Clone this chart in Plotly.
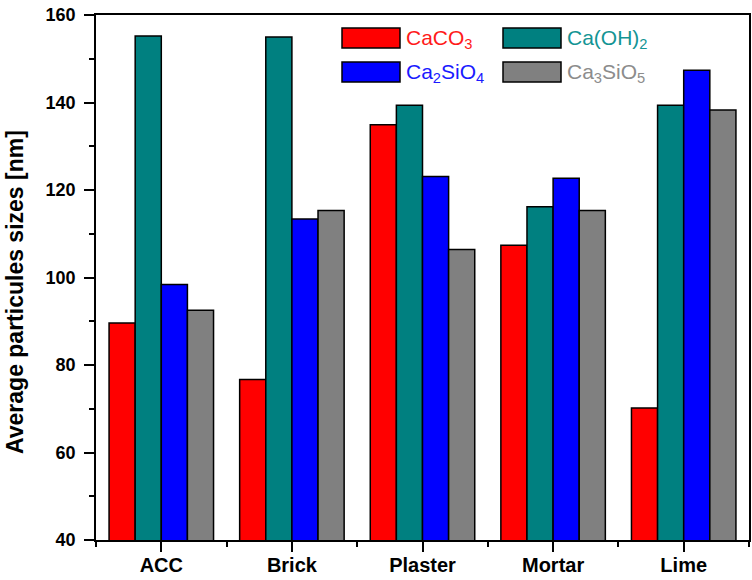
import plotly.graph_objects as go

# datos
categorias = ["ACC", "Brick", "Plaster", "Mortar", "Lime"]
caco3 = [89.6, 76.7, 134.9, 107.4, 70.2]
caoh2 = [155.2, 155.0, 139.4, 116.2, 139.4]
ca2sio4 = [98.4, 113.4, 123.1, 122.7, 147.4]
ca3sio5 = [92.5, 115.3, 106.4, 115.3, 138.3]

series = [
    ("CaCO<sub>3</sub>", caco3, "#ff0000", "#ff1a1a"),
    ("Ca(OH)<sub>2</sub>", caoh2, "#008080", "#139494"),
    ("Ca<sub>2</sub>SiO<sub>4</sub>", ca2sio4, "#0000ff", "#1a1aff"),
    ("Ca<sub>3</sub>SiO<sub>5</sub>", ca3sio5, "#808080", "#8c8c8c"),
]

FONT = "Liberation Sans, Arial, sans-serif"
x = list(range(len(categorias)))

fig = go.Figure()
for nombre, vals, color, _ in series:
    fig.add_trace(go.Bar(
        x=x, y=vals, name=nombre,
        marker=dict(color=color, line=dict(color="black", width=1.5)),
        showlegend=False,
    ))

# area de trazado: x 96..749, y 15..540
W, H = 653, 525
def px_x(p):
    return (p - 96) / W
def px_y(p):
    return (540 - p) / H

# leyenda manual (2 columnas, dentro del grafico)
pos = [(342, 28), (503, 28), (342, 62), (503, 62)]
for (nombre, _, color, tcolor), (sx, sy) in zip(series, pos):
    fig.add_shape(type="rect", xref="paper", yref="paper",
                  x0=px_x(sx), x1=px_x(sx + 58), y0=px_y(sy), y1=px_y(sy + 20),
                  fillcolor=color, line=dict(color="black", width=1.5))
    fig.add_annotation(xref="paper", yref="paper", x=px_x(sx + 62), y=px_y(sy + 11),
                       text=nombre, showarrow=False, xanchor="left", yanchor="middle",
                       font=dict(family=FONT, size=21, color=tcolor))

# titulo del eje y
fig.add_annotation(xref="paper", yref="paper", x=px_x(15), y=px_y(292),
                   text="<b>Average particules sizes [nm]</b>", textangle=-90,
                   showarrow=False, xanchor="center", yanchor="middle",
                   font=dict(family=FONT, size=23, color="black"))

fig.update_layout(
    width=752, height=580,
    margin=dict(l=96, r=3, t=15, b=40),
    plot_bgcolor="white", paper_bgcolor="white",
    barmode="group", bargap=0.2, bargroupgap=0,
    font=dict(family=FONT, color="black"),
)
fig.update_xaxes(
    range=[-0.5, 4.5], tickvals=x, ticktext=[f"<b>{c}</b>" for c in categorias],
    ticks="outside", ticklen=10, tickwidth=1.5, tickcolor="black",
    minor=dict(dtick=0.5, tick0=-0.5, ticks="outside", ticklen=5, tickwidth=1.5, tickcolor="black"),
    showline=True, linecolor="black", linewidth=1.5, mirror=True,
    showgrid=False, zeroline=False, automargin=False,
    tickfont=dict(size=20, family=FONT), ticklabelstandoff=-4,
)
fig.update_yaxes(
    range=[40, 160], dtick=20, tick0=40,
    ticks="outside", ticklen=10, tickwidth=1.5, tickcolor="black",
    minor=dict(dtick=10, ticks="outside", ticklen=5, tickwidth=1.5, tickcolor="black"),
    showline=True, linecolor="black", linewidth=1.5, mirror=True,
    showgrid=False, zeroline=False, automargin=False,
    tickfont=dict(size=18, family=FONT), ticklabelstandoff=5,
    tickprefix="<b>", ticksuffix="</b>", ticklabeloverflow="allow",
)

# quitar el margen por defecto del body para que la figura ocupe toda la ventana
fig.write_html("out.html", config={"displayModeBar": False},
               post_script="document.body.style.margin='0';")
